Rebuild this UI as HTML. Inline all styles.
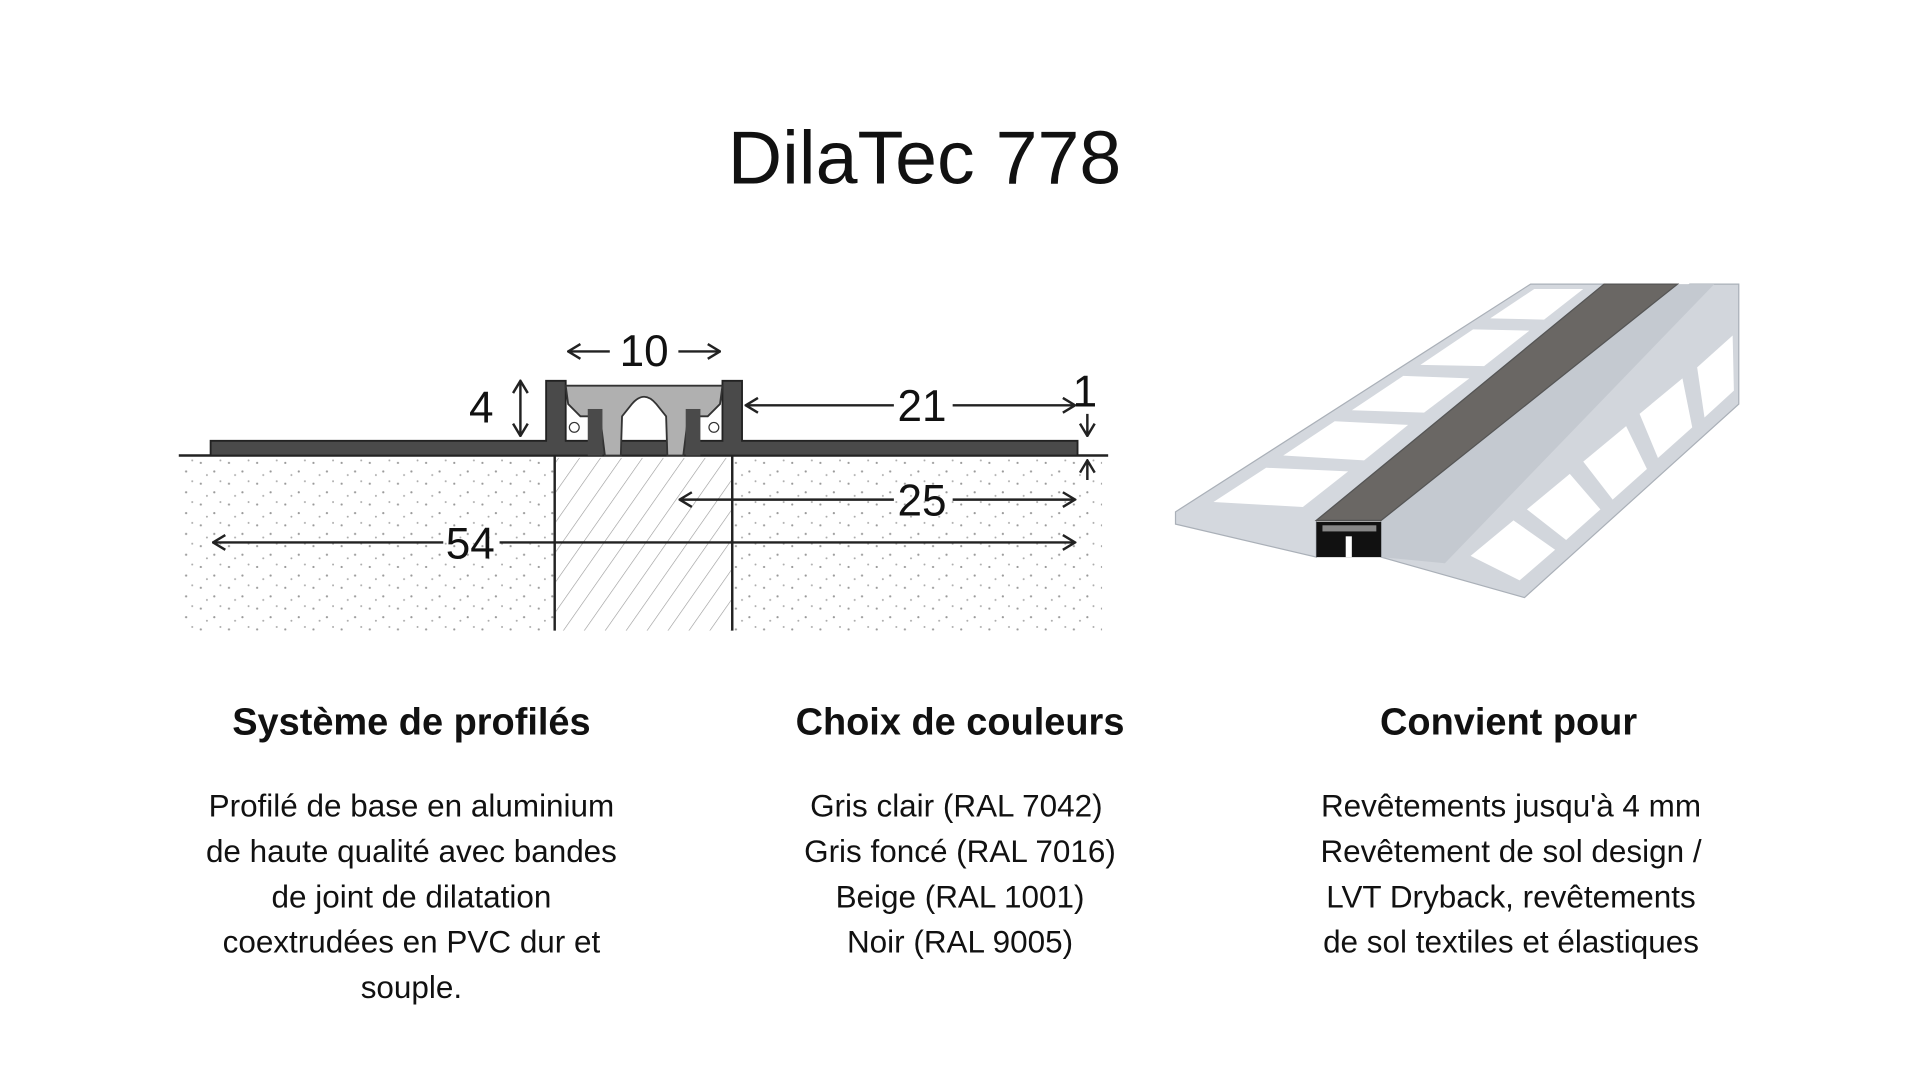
<!DOCTYPE html>
<html><head><meta charset="utf-8"><style>
html,body{margin:0;padding:0;background:#fff;}
svg{display:block;}
text{font-family:"Liberation Sans",sans-serif;fill:#111;}
</style></head><body>
<svg width="1920" height="1080" viewBox="0 0 1568 882" xmlns="http://www.w3.org/2000/svg">
<defs>
<pattern id="dots" width="23" height="17" patternUnits="userSpaceOnUse">
<circle cx="3" cy="4" r="0.9" fill="#999"/><circle cx="14" cy="11" r="0.9" fill="#999"/><circle cx="19" cy="2" r="0.8" fill="#aaa"/><circle cx="8" cy="14" r="0.8" fill="#aaa"/>
</pattern>
<pattern id="hatch" width="14" height="14" patternUnits="userSpaceOnUse" patternTransform="rotate(35)">
<line x1="0" y1="0" x2="0" y2="14" stroke="#999" stroke-width="1"/>
</pattern>
<marker id="ah" markerWidth="12" markerHeight="14" refX="11" refY="7" orient="auto-start-reverse" markerUnits="userSpaceOnUse">
<path d="M1,1 L11,7 L1,13" fill="none" stroke="#222" stroke-width="2"/>
</marker>
</defs>
<text x="755" y="150" font-size="61.5" text-anchor="middle">DilaTec 778</text>

<rect x="148" y="374" width="752" height="141" fill="url(#dots)"/>
<rect x="454" y="374" width="144" height="141" fill="#fff"/>
<rect x="454" y="374" width="144" height="141" fill="url(#hatch)"/>
<line x1="453" y1="372" x2="453" y2="515" stroke="#222" stroke-width="2"/>
<line x1="598" y1="372" x2="598" y2="515" stroke="#222" stroke-width="2"/>
<line x1="146" y1="372" x2="905" y2="372" stroke="#222" stroke-width="2"/>
<path d="M172,372 L172,360 L446,360 L446,311 L462,311 L462,360 L590,360 L590,311 L606,311 L606,360 L880,360 L880,372 Z" fill="#4a4a4a" stroke="#222" stroke-width="1.5"/>
<path d="M462,315 L590,315 L588,330 L578,340 L562,340 L558,372 L545,372 L544,340 L536,330 Q526,318 516,330 L508,340 L507,372 L494,372 L490,340 L474,340 L464,330 Z" fill="#b0b0b0" stroke="#333" stroke-width="1.5"/>
<rect x="480" y="334" width="12" height="38" fill="#4a4a4a"/>
<rect x="560" y="334" width="12" height="38" fill="#4a4a4a"/>
<circle cx="469" cy="349" r="4" fill="#fff" stroke="#333"/>
<circle cx="583" cy="349" r="4" fill="#fff" stroke="#333"/>
<g stroke="#222" stroke-width="2" fill="none">
<line x1="464" y1="287" x2="498" y2="287" marker-start="url(#ah)"/>
<line x1="554" y1="287" x2="588" y2="287" marker-end="url(#ah)"/>
<line x1="425" y1="311" x2="425" y2="356" marker-start="url(#ah)" marker-end="url(#ah)"/>
<line x1="609" y1="331" x2="730" y2="331" marker-start="url(#ah)"/>
<line x1="778" y1="331" x2="878" y2="331" marker-end="url(#ah)"/>
<line x1="888" y1="338" x2="888" y2="356" marker-end="url(#ah)"/>
<line x1="888" y1="392" x2="888" y2="376" marker-end="url(#ah)"/>
<line x1="555" y1="408" x2="730" y2="408" marker-start="url(#ah)"/>
<line x1="778" y1="408" x2="878" y2="408" marker-end="url(#ah)"/>
<line x1="174" y1="443" x2="362" y2="443" marker-start="url(#ah)"/>
<line x1="408" y1="443" x2="878" y2="443" marker-end="url(#ah)"/>
</g>
<g font-size="36">
<text x="526" y="299" text-anchor="middle">10</text>
<text x="393" y="345" text-anchor="middle">4</text>
<text x="753" y="344" text-anchor="middle">21</text>
<text x="886" y="332" text-anchor="middle">1</text>
<text x="753" y="421" text-anchor="middle">25</text>
<text x="384" y="456" text-anchor="middle">54</text>
</g>

<g stroke="#aab0b8" stroke-width="1">
<polygon points="960,418 1250,232 1310,232 1075,425 1075,455 960,428" fill="#d4d8de"/>
<polygon points="1128,425 1380,232 1420,232 1420,330 1245,488 1128,455" fill="#d2d6dc"/>
<polygon points="1128,425 1370,232 1400,232 1180,460 1128,455" fill="#c4c9d0" stroke="none"/>
<polygon points="1075,425 1310,232 1370,232 1128,425" fill="#6a6764" stroke="#555"/>
</g>
<g fill="#fff">
<polygon points="991,410 1034,382 1101,385 1064,414"/>
<polygon points="1048,372 1090,344 1150,347 1114,376"/>
<polygon points="1104,335 1146,307 1200,309 1163,337"/>
<polygon points="1160,298 1203,269 1249,270 1212,299"/>
<polygon points="1217,260 1253,236 1293,236 1261,261"/>
<polygon points="1201,454 1236,425 1270,449 1241,474"/>
<polygon points="1247,416 1282,387 1307,416 1279,441"/>
<polygon points="1293,377 1328,348 1345,383 1317,408"/>
<polygon points="1339,338 1374,309 1382,349 1354,374"/>
<polygon points="1386,300 1415,274 1416,319 1392,341"/>
</g>
<rect x="1075" y="426" width="53" height="29" fill="#111"/>
<rect x="1099" y="438" width="5" height="17" fill="#fff"/>
<rect x="1080" y="429" width="44" height="5" fill="#888"/>

<g font-size="31" font-weight="bold" text-anchor="middle">
<text x="336" y="600">Système de profilés</text>
<text x="784" y="600">Choix de couleurs</text>
<text x="1232" y="600">Convient pour</text>
</g>
<g font-size="25.7" text-anchor="middle">
<text x="336" y="667">Profilé de base en aluminium</text>
<text x="336" y="704">de haute qualité avec bandes</text>
<text x="336" y="741">de joint de dilatation</text>
<text x="336" y="778">coextrudées en PVC dur et</text>
<text x="336" y="815">souple.</text>
<text x="781" y="667">Gris clair (RAL 7042)</text>
<text x="784" y="704">Gris foncé (RAL 7016)</text>
<text x="784" y="741">Beige (RAL 1001)</text>
<text x="784" y="778">Noir (RAL 9005)</text>
<text x="1234" y="667">Revêtements jusqu'à 4 mm</text>
<text x="1234" y="704">Revêtement de sol design /</text>
<text x="1234" y="741">LVT Dryback, revêtements</text>
<text x="1234" y="778">de sol textiles et élastiques</text>
</g>
</svg>
</body></html>
